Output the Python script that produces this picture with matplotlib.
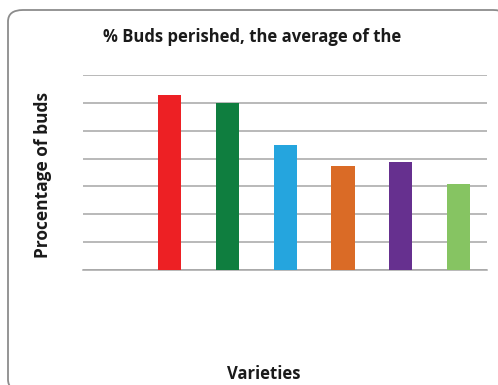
import matplotlib
matplotlib.use("Agg")
from matplotlib import pyplot as plt
from matplotlib.patches import FancyBboxPatch

# data (first category has no bar)
varieties = ["", "V1", "V2", "V3", "V4", "V5", "V6"]
buds_perished = [0, 62.7, 59.8, 44.8, 37.3, 38.9, 31.0]
bar_colors = ["white", "#ED2024", "#0F7E3F", "#25A5DE", "#DA6B26", "#66308F", "#86C462"]
grid_ticks = [0, 10, 20, 30, 40, 50, 60, 70]

W, H = 498, 385
fig = plt.figure(figsize=(W / 100, H / 100), dpi=100)
fig.patch.set_facecolor("white")

# rounded chart frame, partly running off the right/bottom edges
frame = FancyBboxPatch((8 / W, -6 / H), 500 / W, 381 / H,
                       boxstyle="round,pad=0,rounding_size=0.03",
                       transform=fig.transFigure, facecolor="white",
                       edgecolor="#8c8c8c", linewidth=1.3, zorder=-1)
fig.patches.append(frame)

ax = fig.add_axes([83.3 / W, 1 - 270 / H, 404 / W, 195 / H])
ax.set_zorder(2)
ax.set_facecolor("none")

x = list(range(len(varieties)))
ax.bar(x, buds_perished, width=0.4, color=bar_colors, zorder=3)

ax.set_xlim(-0.5, len(varieties) - 0.5)
ax.set_ylim(0, 70)
ax.set_yticks(grid_ticks)
ax.set_xticks([])
ax.tick_params(axis="y", length=0, labelleft=False)
ax.yaxis.grid(True, color="#a6a6a6", linewidth=1.1, zorder=0)
for s in ["top", "right", "left"]:
    ax.spines[s].set_visible(False)
ax.spines["bottom"].set_color("#a6a6a6")
ax.spines["bottom"].set_linewidth(1.1)

fig.text(252 / W, 1 - 37 / H, "% Buds perished, the average of the",
         ha="center", va="center", fontsize=12, fontweight="bold",
         family="Open Sans", color="#1a1a1a")
fig.text(43 / W, 1 - 175 / H, "Procentage of buds", rotation=90,
         ha="center", va="center", fontsize=12.5, fontweight="bold",
         family="Open Sans", color="#1a1a1a")
fig.text(264 / W, 1 - 374 / H, "Varieties",
         ha="center", va="center", fontsize=12, fontweight="bold",
         family="Open Sans", color="#1a1a1a")

plt.savefig("out.png", dpi=100)
